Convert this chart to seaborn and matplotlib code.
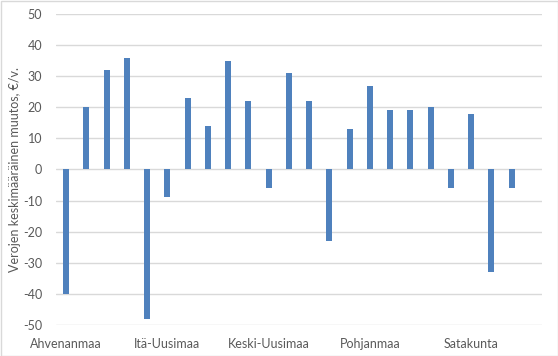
import numpy as np
import pandas as pd
import matplotlib
matplotlib.use("Agg")
import matplotlib.pyplot as plt
import seaborn as sns

regions = ["Ahvenanmaa", "Etelä-Karjala", "Etelä-Pohjanmaa", "Etelä-Savo", "Helsinki",
           "Itä-Uusimaa", "Jokilaaksot", "Kainuu", "Kanta-Häme", "Keski-Suomi",
           "Keski-Uusimaa", "Kymenlaakso", "Lappi", "Länsi-Uusimaa", "Oulu-Koillismaa",
           "Pohjanmaa", "Pohjois-Karjala", "Pohjois-Savo", "Päijät-Häme", "Pirkanmaa",
           "Satakunta", "Varsinais-Suomi", "Keski-Pohjanmaa", "Koko maa"]
values = [-40, 20, 32, 36, -48, -9, 23, 14, 35, 22, -6, 31, 22, -23, 13,
          27, 19, 19, 20, -6, 18, -33, -6, np.nan]
shown_labels = ["Ahvenanmaa", "Itä-Uusimaa", "Keski-Uusimaa", "Pohjanmaa", "Satakunta"]
yticks = [-50, -40, -30, -20, -10, 0, 10, 20, 30, 40, 50]
ylabel = "Verojen keskimääräinen muutos, €/v."

df = pd.DataFrame({"alue": regions, "muutos": values})

sns.set_theme(style="white")
plt.rcParams["font.family"] = ["Lato", "DejaVu Sans"]

fig = plt.figure(figsize=(5.58, 3.56), dpi=100)
ax = fig.add_axes([56/558, 1-325/356, (542-56)/558, (325-14)/356])

sns.barplot(data=df, x="alue", y="muutos", order=regions, color="#4f81bd",
            saturation=1, width=0.3, ax=ax, errorbar=None, linewidth=0)
ax.set_ylim(-50, 50)
ax.set_xlim(-0.5, len(regions) - 0.5)
ax.set_yticks(yticks)
ax.set_yticklabels([str(v) for v in yticks])
ax.set_xticks(range(len(regions)))
ax.set_xticklabels([r if r in shown_labels else "" for r in regions])
ax.tick_params(axis="both", length=0, labelsize=9, labelcolor="#595959")
ax.tick_params(axis="y", pad=10)
ax.tick_params(axis="x", pad=9)
ax.set_xlabel("")
ax.set_ylabel(ylabel, fontsize=9, color="#595959")
ax.yaxis.set_label_coords(-(56 - 21) / 486, 0.5)
ax.grid(axis="y", color="#d9d9d9", linewidth=1)
ax.set_axisbelow(True)
for s in ax.spines.values():
    s.set_visible(False)

fig.patches.append(plt.Rectangle((0.5/558, 0.5/356), 1 - 1/558, 1 - 1/356,
                                 transform=fig.transFigure, fill=False,
                                 edgecolor="#d9d9d9", linewidth=1))
fig.savefig("out.png", dpi=100)
